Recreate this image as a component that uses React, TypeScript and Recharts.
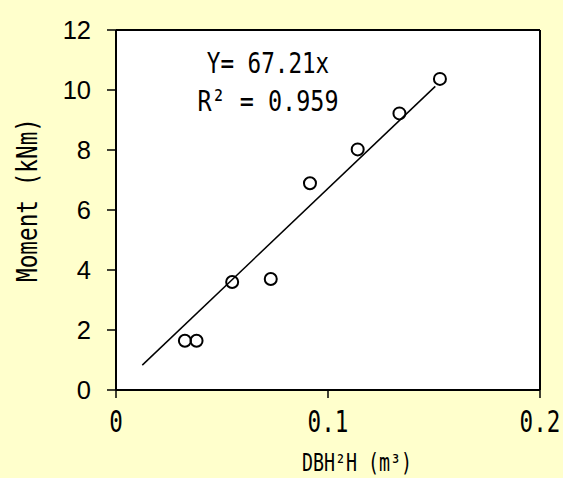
import React from 'react';
import {
  ScatterChart,
  Scatter,
  XAxis,
  YAxis,
  CartesianGrid,
  ReferenceLine,
  ReferenceDot,
} from 'recharts';

// Observed points: DBH^2H (m3) vs Moment (kNm)
const dbh2h = [0.0325, 0.038, 0.0548, 0.073, 0.0915, 0.114, 0.1337, 0.1528];
const moment = [1.64, 1.64, 3.6, 3.7, 6.89, 8.02, 9.22, 10.37];

// Fitted line end points
const fitX = [0.0124, 0.1506];
const fitY = [0.83, 10.12];

const xTicks = [0, 0.1, 0.2];
const xTickLabels = ['0', '0.1', '0.2'];
const yTicks = [0, 2, 4, 6, 8, 10, 12];

const equationText = 'Y= 67.21x';
const r2Text = 'R² = 0.959';
const xTitle = 'DBH²H (m³)';
const yTitle = 'Moment (kNm)';

const points = dbh2h.map((x, i) => ({ x, y: moment[i] }));
const fitLine = fitX.map((x, i) => ({ x, y: fitY[i] }));

const MONO = '"DejaVu Sans Mono", "Liberation Mono", monospace';
const SANS = '"Liberation Sans", Arial, sans-serif';
const CHAR_W = 13.6;

const XTick = (props: any) => {
  const { x, y, payload } = props;
  const idx = xTicks.indexOf(payload.value);
  const label = idx >= 0 ? xTickLabels[idx] : String(payload.value);
  return (
    <text
      x={x}
      y={y + 32}
      textAnchor="middle"
      fontFamily={MONO}
      fontSize={30}
      fill="#000"
      textLength={label.length * CHAR_W}
      lengthAdjust="spacingAndGlyphs"
    >
      {label}
    </text>
  );
};

const YTick = (props: any) => {
  const { x, y, payload } = props;
  return (
    <text x={x} y={y + 8.5} textAnchor="end" fontFamily={SANS} fontSize={25.5} fill="#000">
      {payload.value}
    </text>
  );
};

const CircleShape = (props: any) => {
  const { cx, cy } = props;
  if (cx == null || cy == null) return <g />;
  return <circle cx={cx} cy={cy} r={6} fill="none" stroke="#000" strokeWidth={2} />;
};

const NoShape = () => <g />;

const XLabel = (props: any) => {
  const vb = props.viewBox || {};
  const cx = vb.x + 241;
  const by = vb.y + 81;
  return (
    <text
      x={cx}
      y={by}
      textAnchor="middle"
      fontFamily={MONO}
      fontSize={24}
      fill="#000"
      textLength={110}
      lengthAdjust="spacingAndGlyphs"
    >
      {xTitle}
    </text>
  );
};

const YLabel = (props: any) => {
  const vb = props.viewBox || {};
  const bx = vb.x + 37;
  const cy = vb.y + 170;
  return (
    <text
      x={bx}
      y={cy}
      transform={`rotate(-90, ${bx}, ${cy})`}
      textAnchor="middle"
      fontFamily={MONO}
      fontSize={28}
      fill="#000"
      textLength={164}
      lengthAdjust="spacingAndGlyphs"
    >
      {yTitle}
    </text>
  );
};

const Annotation = (props: any) => {
  const { cx, cy } = props;
  if (cx == null || cy == null) return <g />;
  return (
    <g>
      <text
        x={cx}
        y={cy}
        textAnchor="middle"
        fontFamily={MONO}
        fontSize={29}
        fill="#000"
        textLength={equationText.length * CHAR_W}
        lengthAdjust="spacingAndGlyphs"
      >
        {equationText}
      </text>
      <text
        x={cx}
        y={cy + 37.4}
        textAnchor="middle"
        fontFamily={MONO}
        fontSize={29}
        fill="#000"
        textLength={r2Text.length * 14.1}
        lengthAdjust="spacingAndGlyphs"
      >
        {r2Text}
      </text>
    </g>
  );
};

export default function App() {
  return (
    <div
      style={{
        position: 'absolute',
        left: 0,
        top: 0,
        width: 563,
        height: 478,
        background: '#FFFFCC',
      }}
    >
      <ScatterChart
        width={563}
        height={478}
        margin={{ top: 30, right: 23, bottom: 0, left: 0 }}
      >
        <CartesianGrid horizontal={false} vertical={false} fill="#FFFFFF" fillOpacity={1} />
        <XAxis
          type="number"
          dataKey="x"
          domain={[0, 0.2]}
          ticks={xTicks}
          allowDataOverflow
          height={88}
          tickSize={8}
          axisLine={{ stroke: '#000', strokeWidth: 2 }}
          tickLine={{ stroke: '#000', strokeWidth: 1.5 }}
          tick={<XTick />}
          label={<XLabel />}
        />
        <YAxis
          type="number"
          dataKey="y"
          domain={[0, 12]}
          ticks={yTicks}
          allowDataOverflow
          width={116}
          tickSize={9}
          tickMargin={16}
          axisLine={{ stroke: '#000', strokeWidth: 2 }}
          tickLine={{ stroke: '#000', strokeWidth: 1.5 }}
          tick={<YTick />}
          label={<YLabel />}
        />
        <ReferenceLine x={0.2} stroke="#000" strokeWidth={2} />
        <ReferenceLine y={12} stroke="#000" strokeWidth={2} />
        <Scatter
          data={fitLine}
          line={{ stroke: '#000', strokeWidth: 1.5 }}
          shape={<NoShape />}
          isAnimationActive={false}
          legendType="none"
        />
        <Scatter data={points} shape={<CircleShape />} isAnimationActive={false} />
        <ReferenceDot x={0.0717} y={10.56} r={0} shape={<Annotation />} ifOverflow="visible" />
      </ScatterChart>
    </div>
  );
}
